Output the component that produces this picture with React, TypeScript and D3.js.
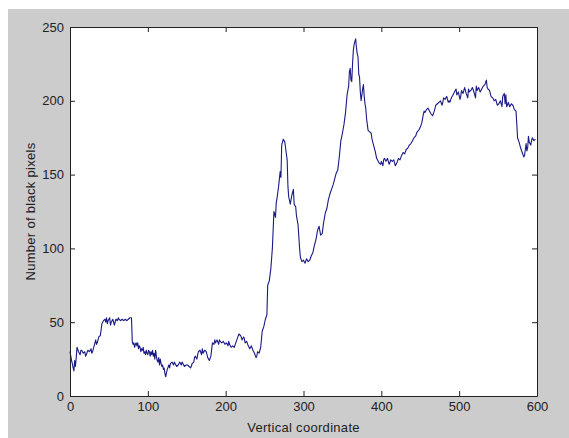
import React, { useEffect, useRef } from 'react';
import * as d3 from 'd3';

// row coordinate sampled along the page (x axis)
const coords = [
  0, 1, 2, 3, 4, 5, 6, 7, 8, 9, 11, 13, 14, 15, 17, 19, 20, 21, 23, 25, 27, 28, 29, 31, 33, 34, 35, 37, 39, 41, 43, 45,
  46, 47, 48, 49, 51, 52, 53, 55, 56, 57, 59, 61, 62, 63, 65, 67, 69, 71, 73, 75, 77, 79,
  80, 81, 82, 83, 84, 85, 86, 87, 88, 89, 90, 91, 92, 93, 94, 95, 96, 97, 98, 99,
  100, 101, 102, 103, 104, 105, 106, 107, 108, 109, 110, 111, 112, 113, 114, 115, 116, 117, 118, 119,
  120, 121, 122, 123, 124, 125, 127, 128, 129, 131, 133, 134, 135, 137, 139,
  141, 143, 144, 145, 147, 149, 151, 153, 155, 157, 159, 160, 161, 163, 164, 165, 167, 169, 170, 171, 173, 175, 177, 179,
  181, 183, 185, 186, 187, 189, 191, 192, 193, 195, 197, 199, 201, 203, 204, 205, 207, 209, 211, 213, 215, 217, 219,
  220, 221, 223, 224, 225, 227, 229, 230, 231, 233, 235, 236, 237, 239, 240, 241, 243, 244, 245, 247, 249, 251, 253, 254, 256, 258,
  260, 262, 264, 265, 266, 268, 270, 271, 272, 274, 276, 277, 279, 280, 281, 283, 285, 287, 288, 290, 291,
  293, 295, 296, 298, 300, 302, 304, 306, 308, 310, 312, 314, 316, 318, 320, 322, 324, 326, 328, 330,
  332, 334, 336, 338, 340, 342, 344, 346, 348, 350, 352, 354, 356, 358, 359, 360, 361, 362, 363, 364,
  365, 367, 368, 369, 370, 371, 372, 373, 374, 376, 377, 378, 379, 380, 381, 383, 385, 387, 388, 390,
  392, 394, 395, 397, 399, 400, 402, 403, 404, 406, 408, 410, 411, 412, 414, 416, 418, 419, 420, 422, 424, 426, 428,
  430, 432, 434, 436, 438, 440, 442, 444, 446, 448, 450, 452, 454, 455, 456, 458, 460, 462, 464, 466,
  468, 470, 472, 474, 476, 478, 479, 480, 482, 484, 486, 487, 488, 490, 492, 494, 496, 497, 499, 501, 502, 503, 505,
  507, 509, 511, 512, 513, 515, 517, 519, 521, 522, 523, 525, 527, 529, 531, 533, 535, 536, 537, 539, 541, 543,
  545, 547, 549, 551, 553, 555, 556, 558, 559, 560, 561, 562, 563, 565, 567, 569, 571, 573, 574, 575, 577,
  579, 581, 583, 584, 585, 586, 587, 588, 589, 590, 592, 593, 594, 596, 598, 600,
];

// black pixel count per row
const counts = [
  30, 27, 24, 22, 19, 17, 24, 20, 26, 33, 30, 28, 31, 31, 29, 30, 27, 28, 31, 30, 32, 29, 30, 34, 38, 35, 36, 40, 41, 49, 51, 52,
  50, 53, 49, 51, 53, 48, 50, 52, 50, 48, 52, 51, 53, 52, 51, 52, 51, 52, 51, 52, 53, 53,
  37, 35, 36, 33, 35, 36, 34, 36, 32, 34, 33, 30, 32, 31, 33, 29, 30, 28, 31, 29,
  28, 31, 30, 27, 30, 28, 31, 27, 29, 25, 31, 27, 24, 23, 26, 21, 25, 22, 20, 21,
  18, 19, 15, 13, 16, 18, 21, 19, 22, 23, 21, 23, 22, 20, 21,
  23, 21, 23, 22, 20, 21, 21, 20, 19, 22, 23, 26, 27, 25, 28, 30, 31, 28, 32, 29, 31, 30, 26, 24,
  27, 36, 35, 38, 36, 38, 35, 38, 37, 36, 37, 35, 36, 34, 37, 35, 33, 34, 33, 36, 39, 42,
  41, 40, 38, 40, 39, 36, 37, 34, 33, 32, 34, 31, 30, 29, 26, 27, 30, 29, 31, 33, 44, 47, 52, 55, 75, 78,
  86, 100, 125, 121, 131, 134, 142, 152, 148, 170, 174, 172, 168, 160, 142, 135, 130, 136, 140, 130, 128,
  122, 116, 100, 94, 91, 92, 90, 93, 91, 92, 95, 97, 102, 106, 112, 115, 109, 110, 118, 124,
  127, 133, 137, 140, 143, 147, 151, 153, 162, 173, 178, 184, 192, 204, 210, 220, 222, 214, 213, 225,
  234, 238, 242, 236, 232, 230, 218, 216, 206, 200, 208, 211, 203, 198, 195, 188, 180, 179, 178, 174,
  170, 166, 161, 160, 158, 157, 159, 156, 160, 161, 159, 161, 157, 158, 160, 159, 160, 156, 157, 158, 161, 160, 163,
  165, 164, 167, 168, 170, 171, 173, 175, 176, 179, 180, 182, 185, 191, 193, 192, 194, 195, 193, 191,
  190, 193, 197, 198, 199, 200, 197, 199, 202, 201, 203, 199, 200, 199, 202, 204, 206, 208, 204, 206, 201, 203, 207,
  205, 209, 205, 202, 208, 206, 207, 209, 206, 202, 210, 207, 209, 206, 208, 210, 211, 214, 209, 208, 207, 203,
  202, 200, 201, 197, 198, 200, 196, 203, 205, 198, 204, 196, 197, 199, 196, 198, 197, 194, 193, 185, 175,
  172, 168, 165, 162, 163, 167, 171, 166, 168, 176, 172, 170, 173, 175, 173, 174,
];

const xTicks = [0, 100, 200, 300, 400, 500, 600];
const yTicks = [0, 50, 100, 150, 200, 250];

export default function App() {
  const svgRef = useRef<SVGSVGElement>(null);

  useEffect(() => {
    if (!svgRef.current) return;
    const W = 569;
    const H = 438;
    const plot = { left: 70, right: 537, top: 27, bottom: 396 };
    const font = '"Liberation Sans", Arial, sans-serif';

    const root = d3.select(svgRef.current);
    root.selectAll('*').remove();

    // figure background
    root.append('rect').attr('width', W).attr('height', H).attr('fill', '#ffffff');
    root.append('rect').attr('x', 8).attr('y', 9).attr('width', W - 8).attr('height', H - 9).attr('fill', '#cccccc');
    root.append('rect')
      .attr('x', plot.left).attr('y', plot.top)
      .attr('width', plot.right - plot.left).attr('height', plot.bottom - plot.top)
      .attr('fill', '#ffffff');

    const x = d3.scaleLinear().domain([0, 600]).range([plot.left, plot.right]);
    const y = d3.scaleLinear().domain([0, 250]).range([plot.bottom, plot.top]);

    const points: [number, number][] = coords.map((c, i) => [c, counts[i]]);
    const line = d3.line<[number, number]>()
      .x(d => x(d[0]))
      .y(d => y(d[1]));

    root.append('path')
      .datum(points)
      .attr('d', line)
      .attr('fill', 'none')
      .attr('stroke', '#1a1a86')
      .attr('stroke-width', 1.1)
      .attr('stroke-linejoin', 'round');

    // axes: ticks inward on all four sides, MATLAB style
    const tl = 5;
    const axisBottom = d3.axisBottom(x).tickValues(xTicks).tickSizeInner(-tl).tickSizeOuter(0).tickPadding(6);
    const axisTop = d3.axisTop(x).tickValues(xTicks).tickSizeInner(-tl).tickSizeOuter(0).tickFormat(() => '');
    const axisLeft = d3.axisLeft(y).tickValues(yTicks).tickSizeInner(-tl).tickSizeOuter(0).tickPadding(6);
    const axisRight = d3.axisRight(y).tickValues(yTicks).tickSizeInner(-tl).tickSizeOuter(0).tickFormat(() => '');

    const gB = root.append('g').attr('transform', `translate(0,${plot.bottom})`).call(axisBottom);
    const gT = root.append('g').attr('transform', `translate(0,${plot.top})`).call(axisTop);
    const gL = root.append('g').attr('transform', `translate(${plot.left},0)`).call(axisLeft);
    const gR = root.append('g').attr('transform', `translate(${plot.right},0)`).call(axisRight);

    [gB, gT, gL, gR].forEach(g => {
      g.select('.domain').attr('stroke', '#222').attr('stroke-width', 1);
      g.selectAll('.tick line').attr('stroke', '#222');
      g.selectAll('.tick text')
        .attr('fill', '#222')
        .style('font-family', font)
        .style('font-size', '13px');
    });

    root.append('text')
      .attr('x', (plot.left + plot.right) / 2)
      .attr('y', 432)
      .attr('text-anchor', 'middle')
      .attr('fill', '#222')
      .style('font-family', font)
      .style('font-size', '13px')
      .style('letter-spacing', '0.3px')
      .text('Vertical coordinate');

    root.append('text')
      .attr('transform', `translate(35,${(plot.top + plot.bottom) / 2}) rotate(-90)`)
      .attr('text-anchor', 'middle')
      .attr('fill', '#222')
      .style('font-family', font)
      .style('font-size', '13px')
      .style('letter-spacing', '0.3px')
      .text('Number of black pixels');
  }, []);

  return (
    <svg
      ref={svgRef}
      width={569}
      height={438}
      style={{ position: 'absolute', left: 0, top: 0, display: 'block' }}
    />
  );
}
